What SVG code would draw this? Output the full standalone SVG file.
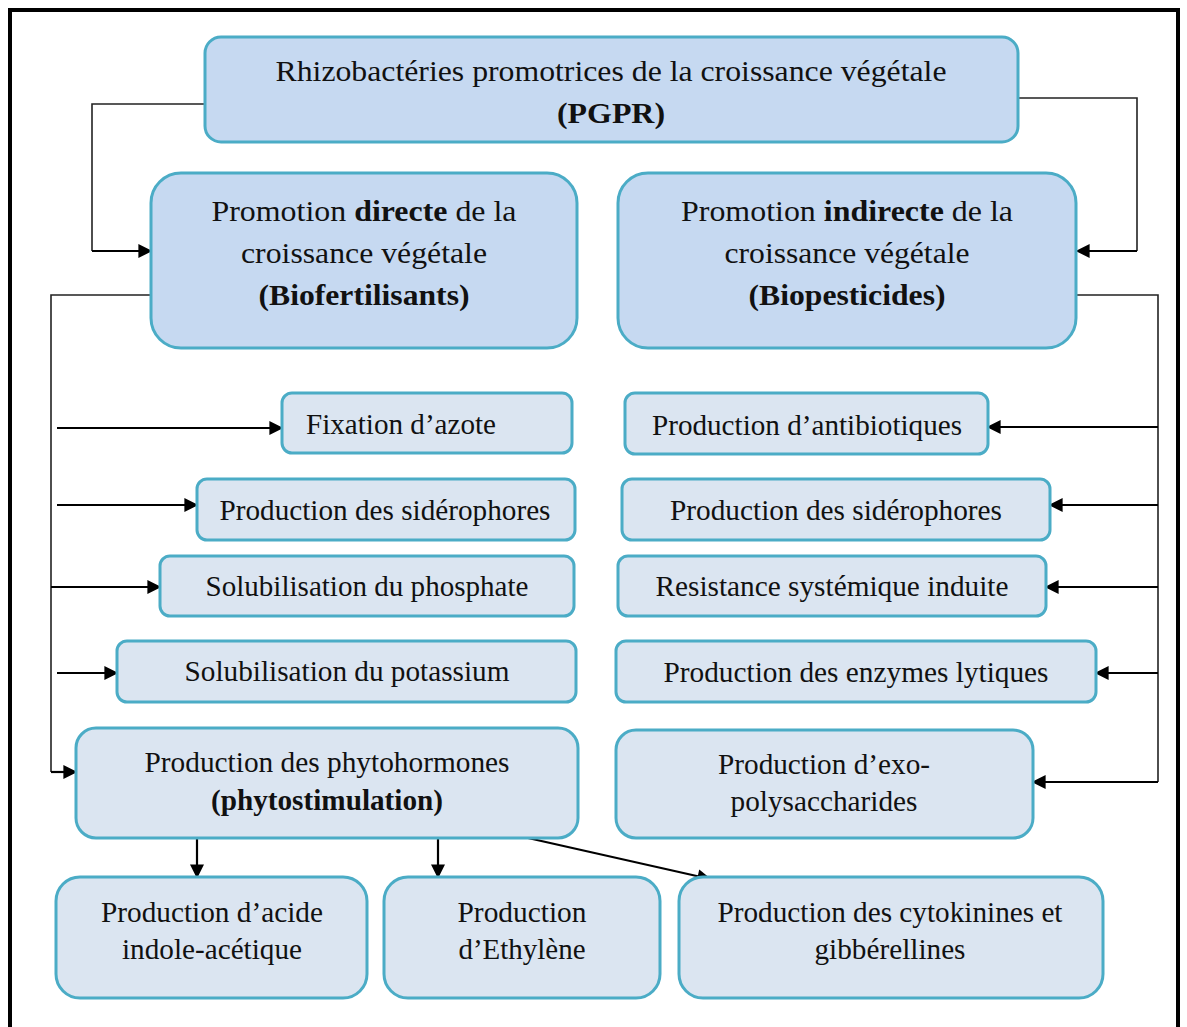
<svg xmlns="http://www.w3.org/2000/svg" width="1187" height="1027" viewBox="0 0 1187 1027">
<defs>
<style>
.main{fill:#c6d9f1;stroke:#4bacc6;stroke-width:3}
.sub{fill:#dbe5f1;stroke:#4bacc6;stroke-width:3}
text{font-family:"Liberation Serif","Times New Roman",serif;font-size:29px;fill:#111;text-anchor:middle}
.b{font-weight:bold}
.c{fill:none;stroke:#222;stroke-width:1.6}
.a{fill:none;stroke:#000;stroke-width:2.2;marker-end:url(#ah)}
</style>
<marker id="ah" viewBox="0 0 10 10" refX="9" refY="5" markerWidth="15" markerHeight="14" markerUnits="userSpaceOnUse" orient="auto">
<path d="M0,0 L10,5 L0,10 z" fill="#000"/>
</marker>
</defs>
<rect x="0" y="0" width="1187" height="1027" fill="#fff"/>
<rect x="10" y="10" width="1168" height="1040" fill="none" stroke="#000" stroke-width="4"/>

<g id="connectors">
<path class="c" d="M205,104 H92 V251"/>
<path class="a" d="M92,251 H151"/>
<path class="c" d="M1018,98 H1137 V251"/>
<path class="a" d="M1137,251 H1077"/>
<path class="c" d="M151,295 H51 V772"/>
<path class="a" d="M57,428 H282"/>
<path class="a" d="M57,505 H197"/>
<path class="a" d="M51,587 H160"/>
<path class="a" d="M57,673 H117"/>
<path class="a" d="M51,772 H76"/>
<path class="c" d="M1077,295 H1158 V782"/>
<path class="a" d="M1158,427 H988"/>
<path class="a" d="M1158,505 H1050"/>
<path class="a" d="M1158,587 H1046"/>
<path class="a" d="M1158,673 H1096"/>
<path class="a" d="M1158,782 H1033"/>
<path class="a" d="M197,838 V877"/>
<path class="a" d="M438,838 V877"/>
<path class="a" d="M528,838 L710,879"/>
</g>

<g id="pgpr">
<rect class="main" x="205" y="37" width="813" height="105" rx="16"/>
<text x="611" y="81" textLength="671" lengthAdjust="spacingAndGlyphs">Rhizobactéries promotrices de la croissance végétale</text>
<text x="611" y="123" class="b" textLength="108" lengthAdjust="spacingAndGlyphs">(PGPR)</text>
</g>
<g id="directe">
<rect class="main" x="151" y="173" width="426" height="175" rx="30"/>
<text x="364" y="221" textLength="305" lengthAdjust="spacingAndGlyphs">Promotion <tspan class="b">directe</tspan> de la</text>
<text x="364" y="263" textLength="246" lengthAdjust="spacingAndGlyphs">croissance végétale</text>
<text x="364" y="305" class="b" textLength="211" lengthAdjust="spacingAndGlyphs">(Biofertilisants)</text>
</g>
<g id="indirecte">
<rect class="main" x="618" y="173" width="458" height="175" rx="30"/>
<text x="847" y="221" textLength="332" lengthAdjust="spacingAndGlyphs">Promotion <tspan class="b">indirecte</tspan> de la</text>
<text x="847" y="263" textLength="245" lengthAdjust="spacingAndGlyphs">croissance végétale</text>
<text x="847" y="305" class="b" textLength="197" lengthAdjust="spacingAndGlyphs">(Biopesticides)</text>
</g>

<g id="fixation">
<rect class="sub" x="282" y="393" width="290" height="60" rx="10"/>
<text x="401" y="434" textLength="190" lengthAdjust="spacingAndGlyphs">Fixation d’azote</text>
</g>
<g id="siderophores-d">
<rect class="sub" x="197" y="479" width="378" height="61" rx="10"/>
<text x="385" y="520" textLength="331" lengthAdjust="spacingAndGlyphs">Production des sidérophores</text>
</g>
<g id="phosphate">
<rect class="sub" x="160" y="556" width="414" height="60" rx="10"/>
<text x="367" y="596" textLength="323" lengthAdjust="spacingAndGlyphs">Solubilisation du phosphate</text>
</g>
<g id="potassium">
<rect class="sub" x="117" y="641" width="459" height="61" rx="10"/>
<text x="347" y="681" textLength="325" lengthAdjust="spacingAndGlyphs">Solubilisation du potassium</text>
</g>
<g id="phytohormones">
<rect class="sub" x="76" y="728" width="502" height="110" rx="20"/>
<text x="327" y="772" textLength="365" lengthAdjust="spacingAndGlyphs">Production des phytohormones</text>
<text x="327" y="810" class="b" textLength="232" lengthAdjust="spacingAndGlyphs">(phytostimulation)</text>
</g>

<g id="antibiotiques">
<rect class="sub" x="625" y="393" width="363" height="61" rx="10"/>
<text x="807" y="435" textLength="310" lengthAdjust="spacingAndGlyphs">Production d’antibiotiques</text>
</g>
<g id="siderophores-i">
<rect class="sub" x="622" y="479" width="428" height="61" rx="10"/>
<text x="836" y="520" textLength="332" lengthAdjust="spacingAndGlyphs">Production des sidérophores</text>
</g>
<g id="resistance">
<rect class="sub" x="618" y="556" width="428" height="60" rx="10"/>
<text x="832" y="596" textLength="353" lengthAdjust="spacingAndGlyphs">Resistance systémique induite</text>
</g>
<g id="enzymes">
<rect class="sub" x="616" y="641" width="480" height="61" rx="10"/>
<text x="856" y="682" textLength="385" lengthAdjust="spacingAndGlyphs">Production des enzymes lytiques</text>
</g>
<g id="exopolysaccharides">
<rect class="sub" x="616" y="730" width="417" height="108" rx="20"/>
<text x="824" y="774" textLength="212" lengthAdjust="spacingAndGlyphs">Production d’exo-</text>
<text x="824" y="811" textLength="187" lengthAdjust="spacingAndGlyphs">polysaccharides</text>
</g>

<g id="aia">
<rect class="sub" x="56" y="877" width="311" height="121" rx="24"/>
<text x="212" y="922" textLength="222" lengthAdjust="spacingAndGlyphs">Production d’acide</text>
<text x="212" y="959" textLength="180" lengthAdjust="spacingAndGlyphs">indole-acétique</text>
</g>
<g id="ethylene">
<rect class="sub" x="384" y="877" width="276" height="121" rx="24"/>
<text x="522" y="922" textLength="129" lengthAdjust="spacingAndGlyphs">Production</text>
<text x="522" y="959" textLength="127" lengthAdjust="spacingAndGlyphs">d’Ethylène</text>
</g>
<g id="cytokinines">
<rect class="sub" x="679" y="877" width="424" height="121" rx="24"/>
<text x="890" y="922" textLength="345" lengthAdjust="spacingAndGlyphs">Production des cytokinines et</text>
<text x="890" y="959" textLength="151" lengthAdjust="spacingAndGlyphs">gibbérellines</text>
</g>
</svg>
